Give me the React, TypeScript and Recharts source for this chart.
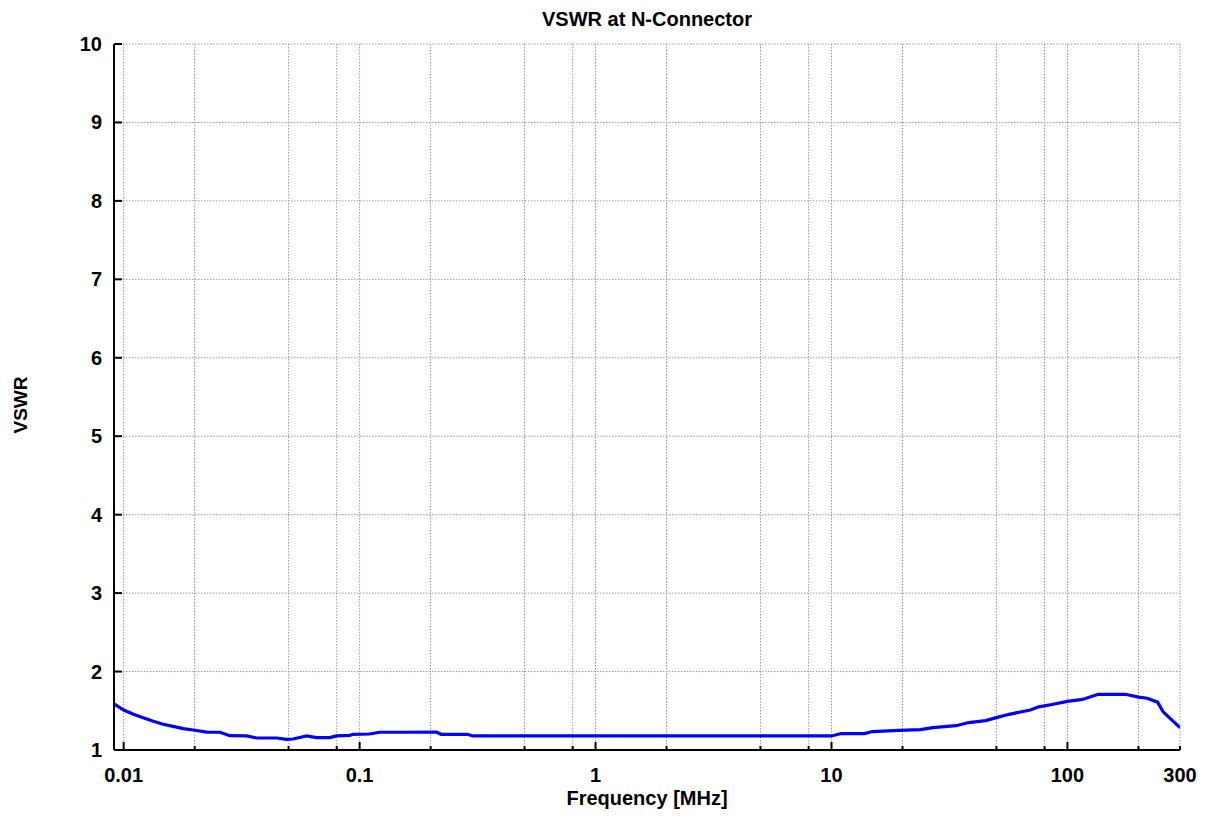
import { CartesianGrid, Label, Line, LineChart, XAxis, YAxis } from "recharts"

// frequency in MHz
const freqMHz = [
  0.0091, 0.01, 0.011, 0.0121, 0.01335, 0.0147, 0.0162, 0.0179, 0.0197, 0.0225, 0.0256, 0.0282,
  0.0332, 0.0366, 0.0445, 0.049, 0.0523, 0.0596, 0.0656, 0.0747, 0.0798, 0.0908, 0.0938, 0.11,
  0.1216, 0.15, 0.2116, 0.2215, 0.2872, 0.3013, 1, 3, 10, 11, 13.8, 14.9, 19.3, 23.8, 26.9,
  33.7, 38.2, 45, 49.5, 56.6, 69.6, 75.6, 86, 100, 115.8, 135, 176, 200, 218, 241, 254, 271, 300,
]

const vswr = [
  1.59, 1.51, 1.455, 1.41, 1.366, 1.328, 1.302, 1.273, 1.255, 1.229, 1.226, 1.183,
  1.179, 1.153, 1.153, 1.136, 1.14, 1.179, 1.158, 1.158, 1.179, 1.187, 1.2, 1.204,
  1.226, 1.226, 1.229, 1.2, 1.2, 1.179, 1.179, 1.179, 1.179, 1.21, 1.21, 1.235, 1.25, 1.26, 1.285,
  1.31, 1.35, 1.375, 1.41, 1.455, 1.51, 1.55, 1.58, 1.62, 1.645, 1.71, 1.71, 1.675, 1.66, 1.61, 1.49, 1.41, 1.285,
]

// vertical grid / tick positions (1, 2, 5, 8 per decade)
const gridFreqs = [
  0.01, 0.02, 0.05, 0.08, 0.1, 0.2, 0.5, 0.8, 1, 2, 5, 8, 10, 20, 50, 80, 100, 200, 300,
]
const labeledFreqs = [0.01, 0.1, 1, 10, 100, 300]
const decadeFreqs = [0.01, 0.1, 1, 10, 100]
const vswrTicks = [1, 2, 3, 4, 5, 6, 7, 8, 9, 10]

const data = freqMHz.map((f, i) => ({ f, v: vswr[i] }))

const FONT = "'Liberation Sans', Arial, Helvetica, sans-serif"
const axisLine = { stroke: "#000", strokeWidth: 2 }

function BottomTick(props: any) {
  const { x, y, payload } = props
  const val = payload.value
  const len = decadeFreqs.includes(val) ? 8 : 4
  return (
    <g>
      <line x1={x} x2={x} y1={y} y2={y - len} stroke="#000" strokeWidth={2} />
      {labeledFreqs.includes(val) && (
        <text
          x={x}
          y={y + 32}
          textAnchor="middle"
          fontFamily={FONT}
          fontWeight="bold"
          fontSize={20}
          fill="#000"
        >
          {String(val)}
        </text>
      )}
    </g>
  )
}

function TopTick(props: any) {
  const { x, y, payload } = props
  const len = decadeFreqs.includes(payload.value) ? 7 : 4
  return <line x1={x} x2={x} y1={y} y2={y + len} stroke="#000" strokeWidth={2} />
}

function LeftTick(props: any) {
  const { x, y, payload } = props
  return (
    <g>
      <line x1={x} x2={x + 8} y1={y} y2={y} stroke="#000" strokeWidth={2} />
      <text
        x={x - 12}
        y={y + 7}
        textAnchor="end"
        fontFamily={FONT}
        fontWeight="bold"
        fontSize={20}
        fill="#000"
      >
        {payload.value}
      </text>
    </g>
  )
}

function RightTick(props: any) {
  const { x, y } = props
  return <line x1={x} x2={x - 7} y1={y} y2={y} stroke="#000" strokeWidth={2} />
}

function YTitle(props: any) {
  const { viewBox } = props
  const cx = 20
  const cy = viewBox.y + viewBox.height / 2 + 8
  return (
    <text
      x={cx}
      y={cy}
      transform={`rotate(-90 ${cx} ${cy})`}
      textAnchor="middle"
      dominantBaseline="central"
      fontFamily={FONT}
      fontWeight="bold"
      fontSize={19}
      fill="#000"
    >
      VSWR
    </text>
  )
}

// chart title, centred over the plot area
function ChartTitle() {
  return (
    <text
      x={647}
      y={26}
      textAnchor="middle"
      fontFamily={FONT}
      fontWeight="bold"
      fontSize={20}
      fill="#000"
    >
      VSWR at N-Connector
    </text>
  )
}

export default function App() {
  return (
    <div style={{ position: "absolute", left: 0, top: 0, width: 1206, height: 816, background: "#fff" }}>
      <LineChart width={1206} height={816} data={data} margin={{ top: 44, right: 26, bottom: 0, left: 0 }}>
        <CartesianGrid stroke="#9a9a9a" strokeDasharray="1.5 1.5" />
        <XAxis
          dataKey="f"
          type="number"
          scale="log"
          domain={[0.0091, 300]}
          allowDataOverflow
          ticks={gridFreqs}
          interval={0}
          height={66}
          tickSize={0}
          tickMargin={0}
          tickLine={false}
          axisLine={axisLine}
          tick={<BottomTick />}
        >
          <Label
            value="Frequency [MHz]"
            position="insideBottom"
            offset={11}
            fontFamily={FONT}
            fontWeight="bold"
            fontSize={20}
            fill="#000"
          />
        </XAxis>
        <XAxis
          xAxisId="top"
          orientation="top"
          dataKey="f"
          type="number"
          scale="log"
          domain={[0.0091, 300]}
          allowDataOverflow
          ticks={gridFreqs}
          interval={0}
          height={0}
          tickSize={0}
          tickMargin={0}
          tickLine={false}
          axisLine={axisLine}
          tick={<TopTick />}
        />
        <YAxis
          type="number"
          domain={[1, 10]}
          allowDataOverflow
          ticks={vswrTicks}
          interval={0}
          width={114}
          tickSize={0}
          tickMargin={0}
          tickLine={false}
          axisLine={axisLine}
          tick={<LeftTick />}
        >
          <Label content={<YTitle />} />
          <Label content={<ChartTitle />} />
        </YAxis>
        <YAxis
          yAxisId="right"
          orientation="right"
          type="number"
          domain={[1, 10]}
          allowDataOverflow
          ticks={vswrTicks}
          interval={0}
          width={0}
          tickSize={0}
          tickMargin={0}
          tickLine={false}
          axisLine={axisLine}
          tick={<RightTick />}
        />
        <Line
          type="linear"
          dataKey="v"
          stroke="#0000ff"
          strokeWidth={3.2}
          dot={false}
          isAnimationActive={false}
        />
      </LineChart>
    </div>
  )
}
